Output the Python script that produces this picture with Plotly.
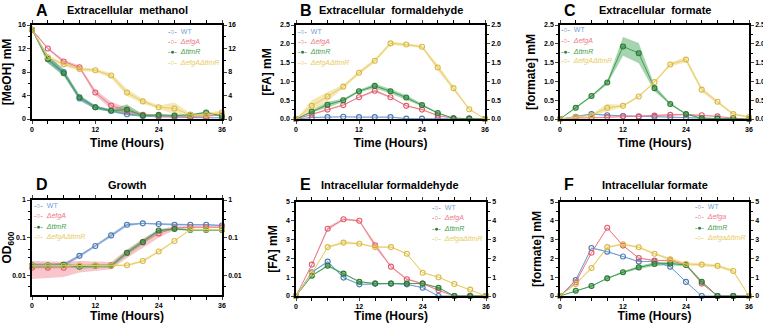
import plotly.graph_objects as go

FONT = "Liberation Sans"
T = [0, 3, 6, 9, 12, 15, 18, 21, 24, 27, 30, 33, 36]
KEYS = ["WT", "efgA", "ttmR", "dbl"]
LINE_COL = {"WT": "#6f9fd6", "efgA": "#ec7a88", "ttmR": "#3f9f4c", "dbl": "#e8cc62"}
MARK_COL = {"WT": "#4a78b0", "efgA": "#e05a6c", "ttmR": "#2a7a36", "dbl": "#d9b940"}
BAND_COL = {"WT": "rgba(70,120,180,0.45)", "efgA": "rgba(236,110,125,0.40)",
            "ttmR": "rgba(60,160,80,0.45)", "dbl": "rgba(232,204,98,0.45)"}

# ---- Panel A: extracellular methanol (mM)
A_mean = {"WT":   [15.2, 10.2, 8.0, 3.5, 2.0, 1.4, 0.8, 0.5, 0.4, 0.3, 0.2, 0.2, 0.2],
          "efgA": [15.2, 12.0, 9.8, 8.8, 4.5, 2.3, 1.4, 0.7, 0.5, 0.5, 0.5, 0.5, 0.7],
          "ttmR": [15.2, 10.2, 7.8, 3.7, 2.0, 1.4, 1.6, 0.6, 0.7, 0.6, 0.7, 1.1, 0.5],
          "dbl":  [15.2, 10.5, 9.3, 8.5, 8.3, 7.4, 4.5, 3.0, 2.0, 1.8, 0.7, 0.7, 1.1]}
A_sd = {"WT":   [0.1, 0.6, 0.5, 0.4, 0.3, 0.2, 0.15, 0.1, 0.1, 0.05, 0.05, 0.05, 0.05],
        "efgA": [0.1, 0.2, 0.3, 0.3, 0.5, 0.6, 0.5, 0.3, 0.2, 0.2, 0.1, 0.1, 0.1],
        "ttmR": [0.1, 0.7, 0.5, 0.4, 0.3, 0.2, 0.9, 0.2, 0.1, 0.1, 0.1, 0.2, 0.1],
        "dbl":  [0.1, 0.3, 0.3, 0.3, 0.3, 0.4, 0.6, 0.4, 0.3, 1.0, 0.3, 0.3, 0.4]}

# ---- Panel B: extracellular formaldehyde (mM)
B_mean = {"WT":   [0, 0.04, 0.05, 0.06, 0.05, 0.05, 0.05, 0.01, 0.01, 0.02, 0.01, 0.01, 0],
          "efgA": [0, 0.12, 0.25, 0.37, 0.58, 0.75, 0.58, 0.35, 0.25, 0.09, 0.02, 0.01, 0],
          "ttmR": [0, 0.20, 0.38, 0.50, 0.74, 0.88, 0.74, 0.57, 0.37, 0.16, 0.02, 0.01, 0],
          "dbl":  [0, 0.35, 0.60, 0.86, 1.23, 1.55, 2.01, 1.98, 1.92, 1.37, 0.82, 0.26, 0]}
B_sd = {"WT":   [0, 0.01, 0.01, 0.01, 0.01, 0.01, 0.01, 0.01, 0.01, 0.01, 0, 0, 0],
        "efgA": [0, 0.02, 0.02, 0.02, 0.02, 0.04, 0.02, 0.02, 0.02, 0.01, 0, 0, 0],
        "ttmR": [0, 0.03, 0.08, 0.04, 0.03, 0.06, 0.06, 0.06, 0.03, 0.02, 0, 0, 0],
        "dbl":  [0, 0.15, 0.12, 0.05, 0.05, 0.05, 0.05, 0.04, 0.04, 0.08, 0.06, 0.03, 0]}

# ---- Panel C: extracellular formate (mM)
C_mean = {"WT":   [0, 0.06, 0.13, 0.10, 0.08, 0.06, 0.06, 0.05, 0.03, 0.02, 0.01, 0.01, 0],
          "efgA": [0, 0.03, 0.03, 0.05, 0.07, 0.07, 0.09, 0.11, 0.12, 0.10, 0.07, 0.02, 0],
          "ttmR": [0, 0.30, 0.61, 0.97, 1.93, 1.75, 0.82, 0.40, 0.13, 0.02, 0.01, 0.01, 0],
          "dbl":  [0, 0.05, 0.10, 0.30, 0.35, 0.60, 0.98, 1.45, 1.58, 0.78, 0.46, 0.13, 0.05]}
C_sd = {"WT":   [0, 0.01, 0.02, 0.01, 0.01, 0.01, 0.01, 0.01, 0.01, 0.01, 0, 0, 0],
        "efgA": [0, 0.01, 0.01, 0.01, 0.01, 0.01, 0.02, 0.02, 0.02, 0.02, 0.01, 0, 0],
        "ttmR": [0, 0.03, 0.03, 0.05, 0.25, 0.27, 0.08, 0.03, 0.02, 0.01, 0, 0, 0],
        "dbl":  [0, 0.02, 0.03, 0.10, 0.03, 0.03, 0.03, 0.05, 0.07, 0.06, 0.04, 0.03, 0.02]}

# ---- Panel D: growth (OD600)
D_mean = {"WT":   [0.0186, 0.0186, 0.019, 0.033, 0.060, 0.115, 0.22, 0.24, 0.23, 0.22, 0.22, 0.22, 0.21],
          "efgA": [0.016, 0.016, 0.016, 0.018, 0.018, 0.0185, 0.039, 0.075, 0.13, 0.18, 0.19, 0.19, 0.19],
          "ttmR": [0.018, 0.018, 0.019, 0.017, 0.018, 0.018, 0.040, 0.077, 0.155, 0.17, 0.16, 0.16, 0.16],
          "dbl":  [0.018, 0.018, 0.018, 0.018, 0.018, 0.018, 0.0185, 0.024, 0.043, 0.082, 0.165, 0.165, 0.165]}
D_sd = {"WT":   [0.002, 0.002, 0.002, 0.003, 0.005, 0.010, 0.020, 0.010, 0.010, 0.010, 0.010, 0.010, 0.010],
        "efgA": [0.008, 0.0075, 0.007, 0.006, 0.005, 0.004, 0.010, 0.020, 0.030, 0.020, 0.010, 0.010, 0.010],
        "ttmR": [0.002, 0.002, 0.002, 0.002, 0.002, 0.002, 0.006, 0.010, 0.015, 0.010, 0.008, 0.008, 0.008],
        "dbl":  [0.001, 0.001, 0.001, 0.001, 0.001, 0.001, 0.001, 0.002, 0.003, 0.004, 0.005, 0.005, 0.005]}

# ---- Panel E: intracellular formaldehyde (mM)
E_mean = {"WT":   [0, 1.26, 1.83, 0.98, 0.62, 0.66, 0.66, 0.62, 0.44, 0, 0, 0, 0],
          "efgA": [0, 1.67, 3.58, 4.08, 4.00, 2.70, 1.56, 0.89, 0.66, 0.30, 0, 0, 0],
          "ttmR": [0, 1.08, 1.61, 1.19, 0.76, 0.66, 0.66, 0.66, 0.66, 0.44, 0, 0, 0],
          "dbl":  [0, 1.20, 2.60, 2.84, 2.78, 2.60, 2.60, 2.25, 1.24, 1.00, 0.64, 0.34, 0]}
E_sd = {"WT":   [0, 0.03, 0.05, 0.03, 0.02, 0.02, 0.02, 0.02, 0.02, 0, 0, 0, 0],
        "efgA": [0, 0.05, 0.10, 0.05, 0.05, 0.15, 0.05, 0.05, 0.03, 0.02, 0, 0, 0],
        "ttmR": [0, 0.03, 0.05, 0.03, 0.02, 0.02, 0.02, 0.02, 0.02, 0.02, 0, 0, 0],
        "dbl":  [0, 0.03, 0.05, 0.08, 0.05, 0.04, 0.04, 0.04, 0.03, 0.03, 0.02, 0.02, 0]}

# ---- Panel F: intracellular formate (mM)
F_mean = {"WT":   [0, 0.85, 2.55, 2.36, 2.10, 1.83, 1.84, 1.56, 0.75, 0, 0, 0, 0],
          "efgA": [0, 0.73, 2.30, 3.63, 2.68, 2.02, 1.88, 1.90, 1.67, 0.66, 0, 0, 0],
          "ttmR": [0, 0.28, 0.53, 0.94, 1.26, 1.52, 1.70, 1.73, 1.65, 0.76, 0, 0, 0],
          "dbl":  [0, 0.64, 1.49, 2.60, 2.75, 2.59, 2.25, 1.95, 1.70, 1.67, 1.60, 1.33, 0]}
F_sd = {"WT":   [0, 0.02, 0.03, 0.03, 0.02, 0.02, 0.02, 0.02, 0.02, 0, 0, 0, 0],
        "efgA": [0, 0.02, 0.03, 0.03, 0.03, 0.03, 0.03, 0.03, 0.03, 0.02, 0, 0, 0],
        "ttmR": [0, 0.02, 0.03, 0.03, 0.05, 0.08, 0.10, 0.10, 0.08, 0.04, 0, 0, 0],
        "dbl":  [0, 0.03, 0.05, 0.05, 0.05, 0.05, 0.05, 0.08, 0.08, 0.08, 0.08, 0.08, 0]}

LEG_ABC = {"WT": "WT", "efgA": "<i>ΔefgA</i>", "ttmR": "<i>ΔttmR</i>", "dbl": "<i>ΔefgAΔttmR</i>"}
LEG_E = {"WT": "WT", "efgA": "<i>ΔefgA</i>", "ttmR": "<i>ΔttmR</i>", "dbl": "<i>ΔefgaΔttmR</i>"}
LEG_F = {"WT": "WT", "efgA": "<i>Δefga</i>", "ttmR": "<i>ΔttmR</i>", "dbl": "<i>ΔefgaΔttmR</i>"}
LEG_SYM = {"WT": "-○-", "efgA": "-○-", "ttmR": "-●-", "dbl": "-○-"}

W, H = 763, 323
def px_x(a, b):
    return [a / W, b / W]
def px_y(top, bot):
    return [1 - bot / H, 1 - top / H]

panels = [
    dict(mean=A_mean, sd=A_sd, xd=px_x(32, 222), yd=px_y(25, 119), yr=[0, 16], dt=4, minor=2,
         fmt="", ytitle="[MeOH] mM", letter="A", title="Extracellular  methanol", lx=173, ly=31,
         leg=LEG_ABC, log=False, ttop=10, tcx=127),
    dict(mean=B_mean, sd=B_sd, xd=px_x(296, 485), yd=px_y(25, 119), yr=[0, 2.5], dt=0.5, minor=0.25,
         fmt=".1f", ytitle="[FA] mM", letter="B", title="Extracellular  formaldehyde", lx=303, ly=31,
         leg=LEG_ABC, log=False, ttop=10, tcx=391),
    dict(mean=C_mean, sd=C_sd, xd=px_x(560, 749), yd=px_y(25, 119), yr=[0, 2.5], dt=0.5, minor=0.25,
         fmt=".1f", ytitle="[formate] mM", letter="C", title="Extracellular  formate", lx=566, ly=30,
         leg=LEG_ABC, log=False, ttop=10, tcx=655),
    dict(mean=D_mean, sd=D_sd, xd=px_x(32, 222), yd=px_y(200, 295), yr=[-2.52, 0], dt=None, minor=None,
         fmt="", ytitle="OD<sub>600</sub>", letter="D", title="Growth", lx=39, ly=205,
         leg=LEG_ABC, log=True, ttop=185, tcx=127),
    dict(mean=E_mean, sd=E_sd, xd=px_x(296, 486), yd=px_y(202, 296), yr=[0, 5], dt=1, minor=0.5,
         fmt="", ytitle="[FA] mM", letter="E", title="Intracellular formaldehyde", lx=437, ly=207,
         leg=LEG_E, log=False, ttop=185, tcx=390),
    dict(mean=F_mean, sd=F_sd, xd=px_x(560, 749), yd=px_y(202, 296), yr=[0, 5], dt=1, minor=0.5,
         fmt="", ytitle="[formate] mM", letter="F", title="Intracellular formate", lx=700, ly=206,
         leg=LEG_F, log=False, ttop=185, tcx=655),
]

fig = go.Figure()
annotations = []
tickfont = dict(family=FONT, size=7, color="black", weight="bold")

for i, p in enumerate(panels, start=1):
    xa = "x" if i == 1 else f"x{i}"
    ya = "y" if i == 1 else f"y{i}"
    # error bands
    for k in KEYS:
        m, s = p["mean"][k], p["sd"][k]
        lo = [max(a - b, 1e-4) if p["log"] else a - b for a, b in zip(m, s)]
        hi = [a + b for a, b in zip(m, s)]
        fig.add_trace(go.Scatter(x=T, y=lo, xaxis=xa, yaxis=ya, mode="lines",
                                 line=dict(width=0, color=BAND_COL[k]), showlegend=False,
                                 hoverinfo="skip"))
        fig.add_trace(go.Scatter(x=T, y=hi, xaxis=xa, yaxis=ya, mode="lines", fill="tonexty",
                                 fillcolor=BAND_COL[k], line=dict(width=0, color=BAND_COL[k]),
                                 showlegend=False, hoverinfo="skip"))
    # mean lines
    for k in KEYS:
        filled = k == "ttmR"
        fig.add_trace(go.Scatter(
            x=T, y=p["mean"][k], xaxis=xa, yaxis=ya, mode="lines+markers",
            name=p["leg"][k], showlegend=False,
            line=dict(color=LINE_COL[k], width=1),
            marker=dict(symbol="circle", size=5,
                        color="rgba(60,140,70,0.55)" if filled else "rgba(255,255,255,0)",
                        line=dict(color=MARK_COL[k], width=1.1)),
            cliponaxis=False))

    xkw = dict(domain=p["xd"], anchor=ya, range=[0, 36], tickvals=[0, 12, 24, 36], automargin=False,
               ticks="outside", ticklen=3, tickwidth=1.2, showline=True, linecolor="black",
               linewidth=1.5, mirror="ticks", showgrid=False, zeroline=False, tickfont=tickfont,
               minor=dict(tickvals=T, ticks="outside", ticklen=3, tickwidth=1, tickcolor="black"),
               title=dict(text="Time (Hours)", standoff=6,
                          font=dict(family=FONT, size=12, color="black", weight="bold")))
    ykw = dict(domain=p["yd"], anchor=xa, range=p["yr"], ticks="outside", ticklen=3, tickwidth=1.2,
               showline=True, linecolor="black", linewidth=1.5, showgrid=False, zeroline=False,
               tickfont=tickfont, automargin=False,
               title=dict(text=p["ytitle"], standoff=6,
                          font=dict(family=FONT, size=12, color="black", weight="bold")))
    if p["log"]:
        ykw.update(type="log", tickvals=[0.01, 0.1, 1], ticktext=["0.01", "0.1", "1"],
                   minor=dict(tickvals=[0.003, 0.005, 0.03, 0.05, 0.3, 0.5], ticks="outside",
                              ticklen=2, tickcolor="black"))
    else:
        ykw.update(dtick=p["dt"], tick0=0, tickformat=p["fmt"],
                   minor=dict(dtick=p["minor"], tick0=0, ticks="outside", ticklen=2,
                              tickcolor="black"))
    rkw = {k2: v for k2, v in ykw.items() if k2 not in ("domain", "title")}
    rkw.update(overlaying=ya, side="right", anchor=xa)
    fig.update_layout(**{("xaxis" if i == 1 else f"xaxis{i}"): xkw,
                         ("yaxis" if i == 1 else f"yaxis{i}"): ykw,
                         f"yaxis{i + 6}": rkw})
    # invisible companion trace so the right-hand axis is rendered
    fig.add_trace(go.Scatter(x=T, y=p["mean"]["WT"], xaxis=xa, yaxis=f"y{i + 6}", mode="lines",
                             line=dict(width=0), opacity=0, showlegend=False, hoverinfo="skip"))
    # compact legend (text rows)
    for j, k in enumerate(KEYS):
        annotations.append(dict(
            text=f'<span style="color:{MARK_COL[k]}">{LEG_SYM[k]}</span>  '
                 f'<span style="color:{LINE_COL[k]}">{p["leg"][k]}</span>',
            x=(p["lx"] - 7) / W, y=1 - (p["ly"] + j * 10.5) / H, xref="paper", yref="paper",
            xanchor="left", yanchor="middle", showarrow=False,
            font=dict(family=FONT, size=7)))
    annotations.append(dict(text=f"<b>{p['letter']}</b>", x=(p["xd"][0] * W + 2) / W,
                            y=1 - p["ttop"] / H, xref="paper", yref="paper", xanchor="left",
                            yanchor="middle", showarrow=False,
                            font=dict(family=FONT, size=16, color="black")))
    annotations.append(dict(text=f"<b>{p['title']}</b>", x=p["tcx"] / W, y=1 - p["ttop"] / H,
                            xref="paper", yref="paper", xanchor="center", yanchor="middle",
                            showarrow=False, font=dict(family=FONT, size=11, color="black")))

fig.update_layout(width=W, height=H, margin=dict(l=0, r=0, t=0, b=0, autoexpand=False),
                  paper_bgcolor="white", plot_bgcolor="white", annotations=annotations,
                  font=dict(family=FONT), showlegend=False)
fig.write_html("out.html", config={"displayModeBar": False},
               post_script="document.body.style.margin='0';document.body.style.overflow='hidden';")
